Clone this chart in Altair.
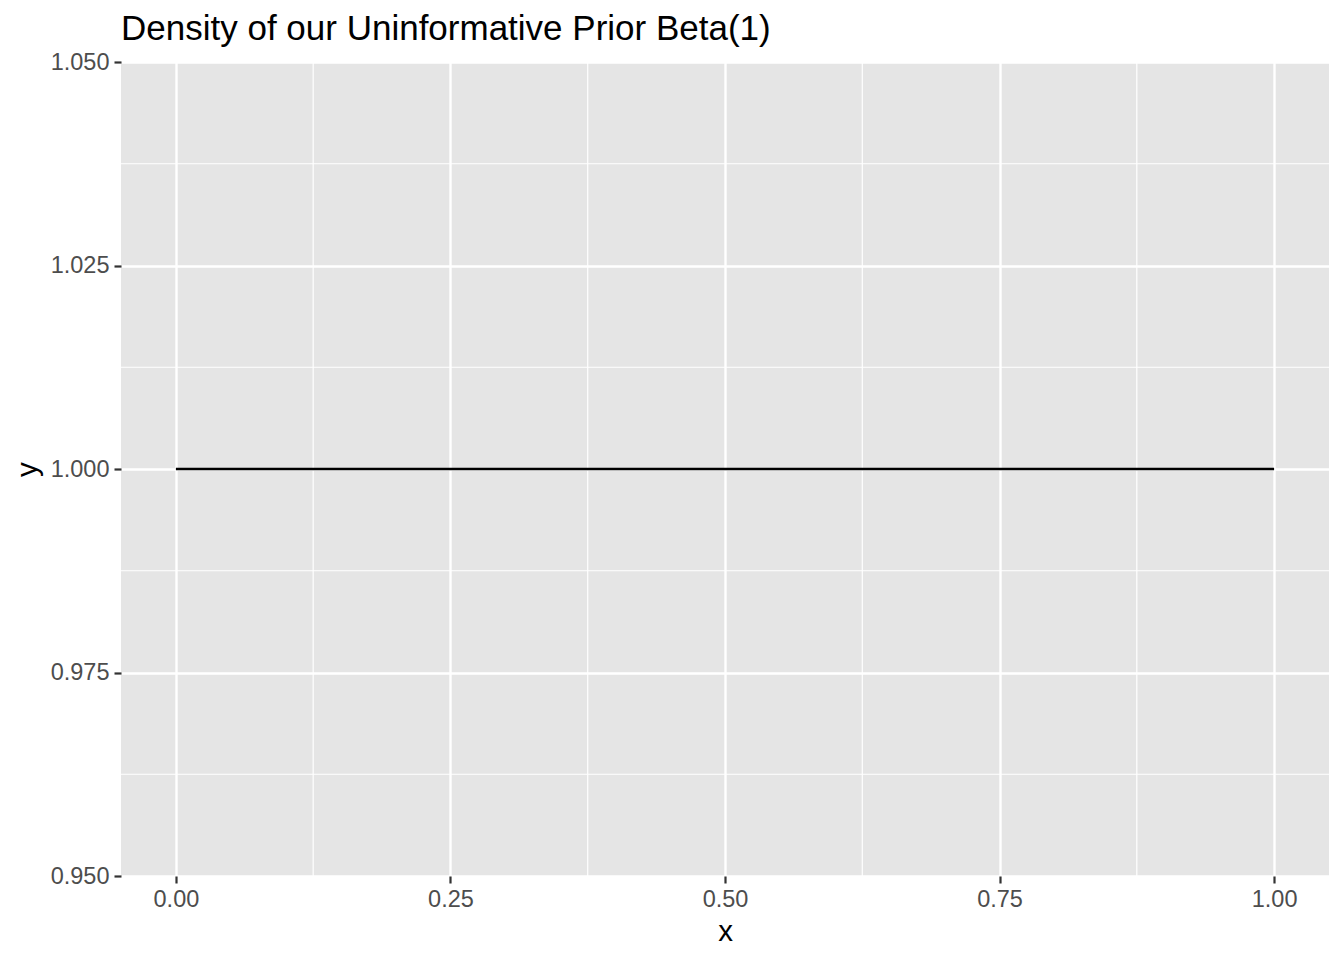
import altair as alt
import pandas as pd

# Data: the Beta(1,1) density is flat at 1
x_values = [0.0, 0.25, 0.5, 0.75, 1.0]
y_values = [1.0, 1.0, 1.0, 1.0, 1.0]

x_major = [0.0, 0.25, 0.5, 0.75, 1.0]
x_minor = [0.125, 0.375, 0.625, 0.875]
y_major = [0.95, 0.975, 1.0, 1.025, 1.05]
y_minor = [0.9625, 0.9875, 1.0125, 1.0375]

title_text = "Density of our Uninformative Prior Beta(1)"

df = pd.DataFrame({"x": x_values, "y": y_values})
df_xminor = pd.DataFrame({"v": x_minor})
df_yminor = pd.DataFrame({"v": y_minor})

FONT = "Liberation Sans"
xscale = alt.Scale(domain=[-0.05, 1.05], nice=False, zero=False)
yscale = alt.Scale(domain=[0.95, 1.05], nice=False, zero=False)

xminor = alt.Chart(df_xminor).mark_rule(color="white", strokeWidth=1.2).encode(
    x=alt.X("v:Q", scale=xscale)
)
yminor = alt.Chart(df_yminor).mark_rule(color="white", strokeWidth=1.2).encode(
    y=alt.Y("v:Q", scale=yscale)
)

line = alt.Chart(df).mark_line(color="black", strokeWidth=2.3).encode(
    x=alt.X(
        "x:Q",
        scale=xscale,
        title="x",
        axis=alt.Axis(
            values=x_major,
            format=".2f",
            grid=True,
            gridColor="white",
            gridWidth=2.4,
            domain=False,
            tickColor="#333333",
            tickSize=7,
            tickWidth=2.2,
            labelColor="#4D4D4D",
            labelFont=FONT,
            labelFontSize=23.5,
            labelBaseline="alphabetic",
            labelPadding=23,
            titleFont=FONT,
            titleFontSize=29.5,
            titleFontWeight="normal",
            titleColor="black",
            titleBaseline="alphabetic",
            titleY=64,
        ),
    ),
    y=alt.Y(
        "y:Q",
        scale=yscale,
        title="y",
        axis=alt.Axis(
            values=y_major,
            format=".3f",
            grid=True,
            gridColor="white",
            gridWidth=2.4,
            domain=False,
            tickColor="#333333",
            tickSize=7,
            tickWidth=2.2,
            labelColor="#4D4D4D",
            labelFont=FONT,
            labelFontSize=23.5,
            labelPadding=5,
            titleFont=FONT,
            titleFontSize=29.5,
            titleFontWeight="normal",
            titleColor="black",
            titleAngle=-90,
            titleBaseline="alphabetic",
            titleX=-85,
        ),
    ),
)

chart = (
    alt.layer(xminor, yminor, line)
    .properties(
        width=1208,
        height=814,
        background="white",
        autosize=alt.AutoSizeParams(type="none"),
        padding={"left": 113, "top": 54, "right": 7, "bottom": 76},
        title=alt.TitleParams(
            text=title_text,
            anchor="start",
            frame="group",
            font=FONT,
            fontSize=35,
            fontWeight="normal",
            color="black",
            baseline="alphabetic",
            offset=-25,
        ),
    )
    .configure_view(fill="#E5E5E5", strokeWidth=0)
)

chart.save("out.html", embed_options={"renderer": "svg", "actions": False})
